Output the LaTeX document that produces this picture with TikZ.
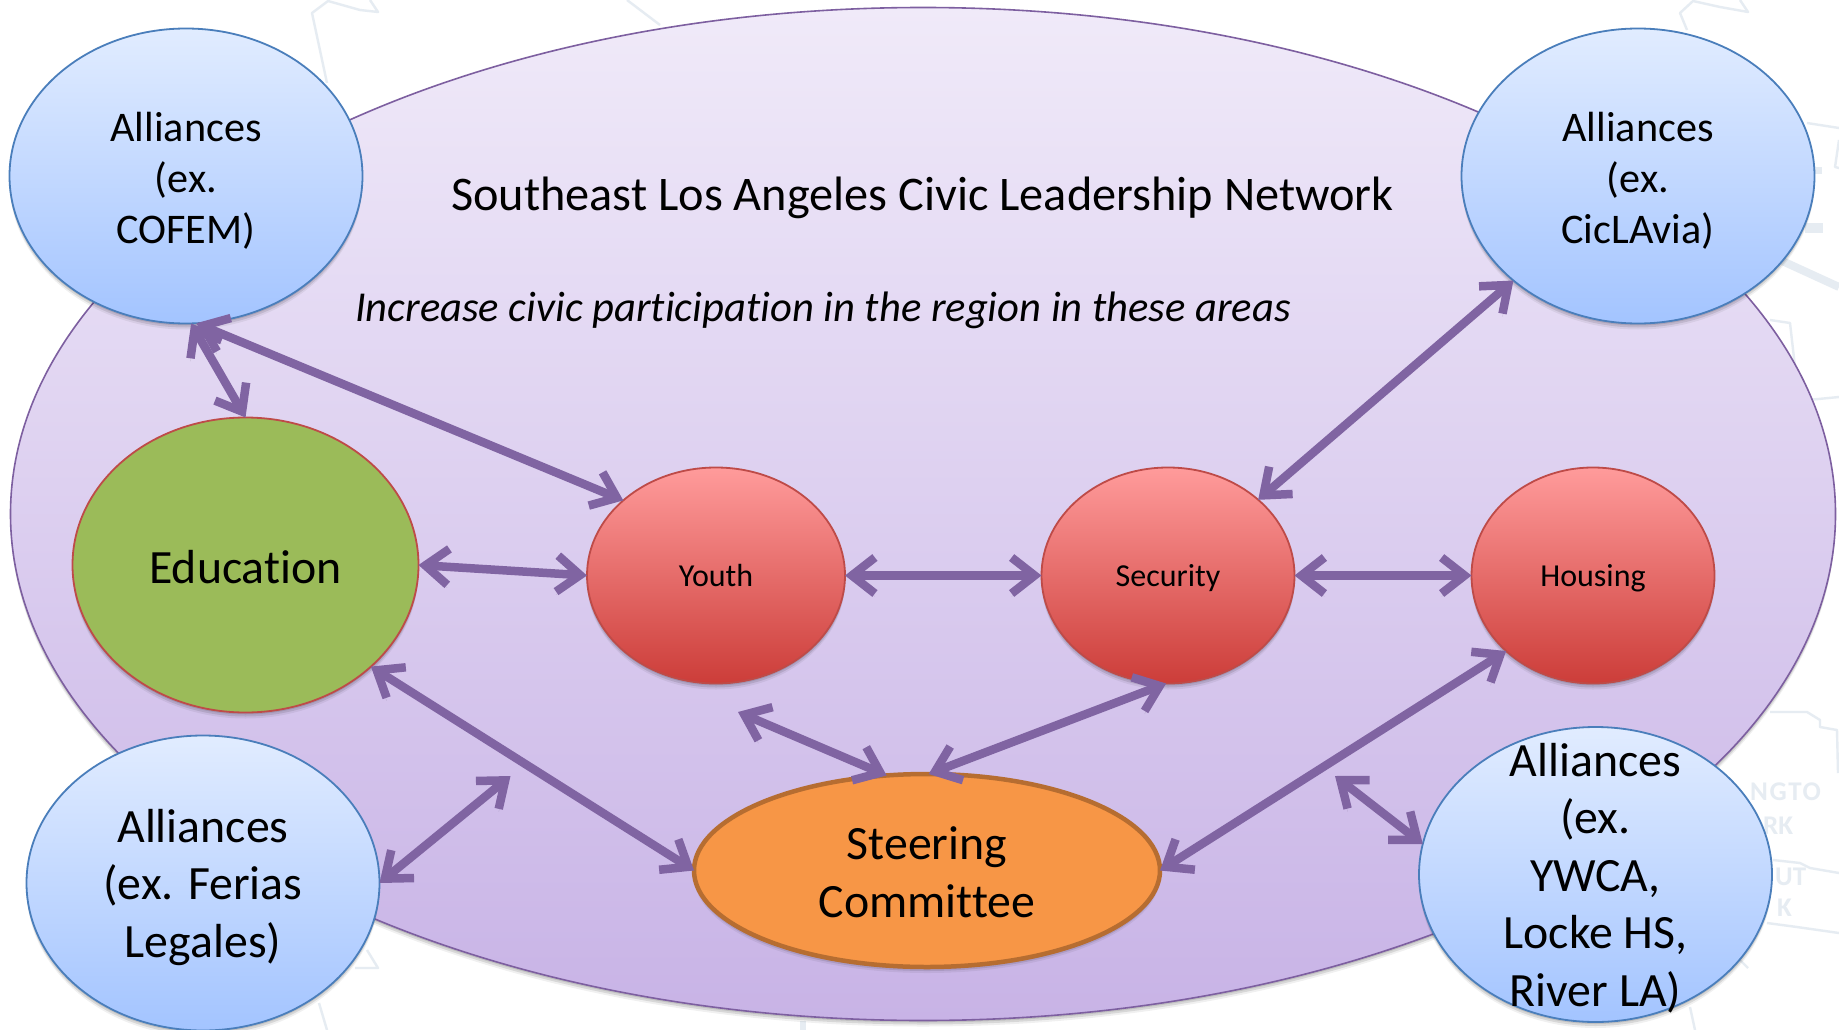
\documentclass[tikz,border=0pt]{standalone}
\usepackage{fontspec}
\setmainfont[Ligatures=NoCommon]{Carlito}
\usetikzlibrary{arrows.meta,shapes.geometric,shadows}
\definecolor{arrowc}{HTML}{8064A2}
\definecolor{mapc}{HTML}{E6ECF2}
\definecolor{bigline}{HTML}{7D5FA0}
\definecolor{blue1}{HTML}{4A7EBB}
\definecolor{red1}{HTML}{BE4B48}
\definecolor{green1}{HTML}{9BBB59}
\definecolor{orange1}{HTML}{F79646}
\definecolor{orange2}{HTML}{B66D31}
\definecolor{bigtop}{HTML}{F0EAF9}
\definecolor{bigbot}{HTML}{C8B3E6}
\definecolor{bluetop}{HTML}{E1ECFF}
\definecolor{bluebot}{HTML}{A3C4FF}
\definecolor{redtop}{HTML}{FF9B9B}
\definecolor{redbot}{HTML}{CC3D39}
\tikzset{
  softshadow/.style={
    general shadow={shadow xshift=0pt,shadow yshift=-2pt,fill=black,opacity=.10},
    general shadow={shadow xshift=0pt,shadow yshift=-4pt,fill=black,opacity=.10},
    general shadow={shadow xshift=0pt,shadow yshift=-6pt,fill=black,opacity=.06}},
  oval/.style={ellipse,inner sep=0pt,outer sep=0pt,softshadow},
  bigoval/.style={oval,draw=bigline,line width=1.6pt,top color=bigtop,bottom color=bigbot,
    minimum width=1825pt,minimum height=1013pt},
  alliance/.style={oval,draw=blue1,line width=1.8pt,top color=bluetop,bottom color=bluebot,
    minimum width=353pt,minimum height=295pt},
  redoval/.style={oval,draw=red1,line width=1.8pt,top color=redtop,bottom color=redbot,
    minimum height=216pt},
  greenoval/.style={oval,draw=red1,line width=1.8pt,fill=green1,
    minimum width=346pt,minimum height=295pt},
  orangeoval/.style={oval,draw=orange2,line width=4.5pt,fill=orange1,
    minimum width=466pt,minimum height=193pt},
  txtsmall/.style={align=center,inner sep=0pt,font=\fontsize{42.2}{51}\selectfont},
  txtbig/.style={align=center,inner sep=0pt,font=\fontsize{47.8}{57.6}\selectfont},
  txtarea/.style={inner sep=0pt,yshift=-3pt,font=\fontsize{32}{38}\selectfont},
  arrowend/.style={},
  link/.style={draw=arrowc,line width=8.5pt,line cap=round,line join=miter,
    {Straight Barb[length=23pt,width=36pt,line width=8.5pt]}-{Straight Barb[length=23pt,width=36pt,line width=8.5pt]},
    preaction={draw=black,draw opacity=.10,transform canvas={yshift=-3pt}}},
  maplink/.style={draw=mapc,line width=2.4pt,line join=round},
  maptxt/.style={text=mapc,inner sep=0pt,font=\fontsize{27}{27}\selectfont\bfseries},
}
\begin{document}
\begin{tikzpicture}[x=1pt,y=-1pt]
\useasboundingbox (0,0) rectangle (1839,1030);
\begin{scope}
\clip (0,0) rectangle (1839,1030);
\fill[white] (0,0) rectangle (1839,1030);
% faint map behind the diagram
\draw[maplink] (327,83) -- (312,13) -- (328,1) -- (360,10) -- (378,12) -- (370,0);
\draw[maplink] (660,25) -- (627,0);
\draw[maplink] (1687,30) -- (1680,13) -- (1693,1) -- (1720,7) -- (1748,12) -- (1740,0);
\draw[maplink] (1807,123) -- (1839,128);
\draw[maplink] (1839,140) -- (1835,167) -- (1839,168);
\draw[maplink,line width=8pt] (1780,260) -- (1839,287);
\draw[maplink,line width=7pt] (1805,170) -- (1822,170);
\draw[maplink,line width=10pt] (1805,228) -- (1823,228);
\draw[maplink] (1770,320) -- (1790,323) -- (1795,367);
\draw[maplink] (1808,400) -- (1839,397);
\draw[maplink] (1770,712) -- (1807,712) -- (1820,720) -- (1820,727) -- (1837,730) -- (1838,773);
\draw[maplink] (1773,860) -- (1800,863) -- (1810,868) -- (1839,873);
\draw[maplink] (1767,923) -- (1797,927) -- (1839,933);
\draw[maplink] (1740,960) -- (1748,968);
\draw[maplink] (1690,1007) -- (1695,1030);
\draw[maplink] (367,950) -- (378,968) -- (355,968);
\draw[maplink] (319,1003) -- (327,1030);
\draw[maplink,line width=6pt] (803,1030) -- (803,1021);
\node[maptxt,anchor=west] (mapa) at (1750,792) {\addfontfeature{LetterSpace=6}NGTO};
\node[maptxt,anchor=west] (mapb) at (1763,826) {RK};
\node[maptxt,anchor=west] (mapc) at (1775,877) {UT};
\node[maptxt,anchor=west] (mapd) at (1777,908) {K};
\node[maptxt,anchor=west] (mape) at (551,1040) {SOUTH};
\end{scope}

\node[bigoval] (net) at (923,514) {};
\node[inner sep=0pt,font=\fontsize{48.3}{50}\selectfont] (title) at (922.5,198) {Southeast Los Angeles Civic Leadership Network};
\node[inner sep=0pt,font=\fontsize{42.6}{50}\selectfont\itshape] (sub) at (823,310) {Increase civic participation in the region in these areas};

\node[alliance] (tl) at (186,176) {};
\node[txtsmall,yshift=-4.5pt] (tlt) at (tl.center) {Alliances\\(ex.\\COFEM)};
\node[alliance] (tr) at (1638,176) {};
\node[txtsmall,yshift=-4.5pt] (trt) at (tr.center) {Alliances\\(ex.\\CicLAvia)};
\node[alliance] (bl) at (203,883) {};
\node[txtbig,yshift=-4.5pt] (blt) at (bl.center) {Alliances\\(ex. Ferias\\Legales)};
\node[alliance] (br) at (1595.5,874.5) {};
\node[txtbig,yshift=-3.5pt] (brt) at (br.center) {Alliances\\(ex.\\YWCA,\\Locke HS,\\River LA)};

\node[greenoval] (edu) at (245.5,565) {};
\node[txtbig] (edut) at (245.5,567) {Education};
\node[redoval,minimum width=258pt] (youth) at (716,575.5) {};
\node[txtarea] (youtht) at (youth.center) {\strut Youth};
\node[redoval,minimum width=253pt] (sec) at (1168,575.5) {};
\node[txtarea] (sect) at (sec.center) {\strut Security};
\node[redoval,minimum width=243pt] (hou) at (1593,575.5) {};
\node[txtarea] (hout) at (hou.center) {\strut Housing};
\node[orangeoval] (steer) at (927,870.5) {};
\node[txtbig,yshift=-1.5pt] (steert) at (steer.center) {Steering\\Committee};

\coordinate (fa) at (510.5,776);
\coordinate (fb) at (738,712);
\coordinate (fc) at (1335,776);

\draw[link] (tl.-88.4) -- (edu.90.8);
\draw[link] (tl.-86.9) -- (youth.141.2);
\draw[link] (edu.0) -- (youth.180);
\draw[link] (youth.0) -- (sec.180);
\draw[link] (sec.0) -- (hou.180);
\draw[link] (sec.40) -- (tr.220);
\draw[link] (edu.-39.9) -- (steer.180);
\draw[link] (bl.0) -- (fa);
\draw[link] (fb) -- (steer.113.8);
\draw[link] (steer.89) -- (sec.-91);
\draw[link] (steer.0) -- (hou.221);
\draw[link] (fc) -- (br.170.6);
\end{tikzpicture}
\end{document}
